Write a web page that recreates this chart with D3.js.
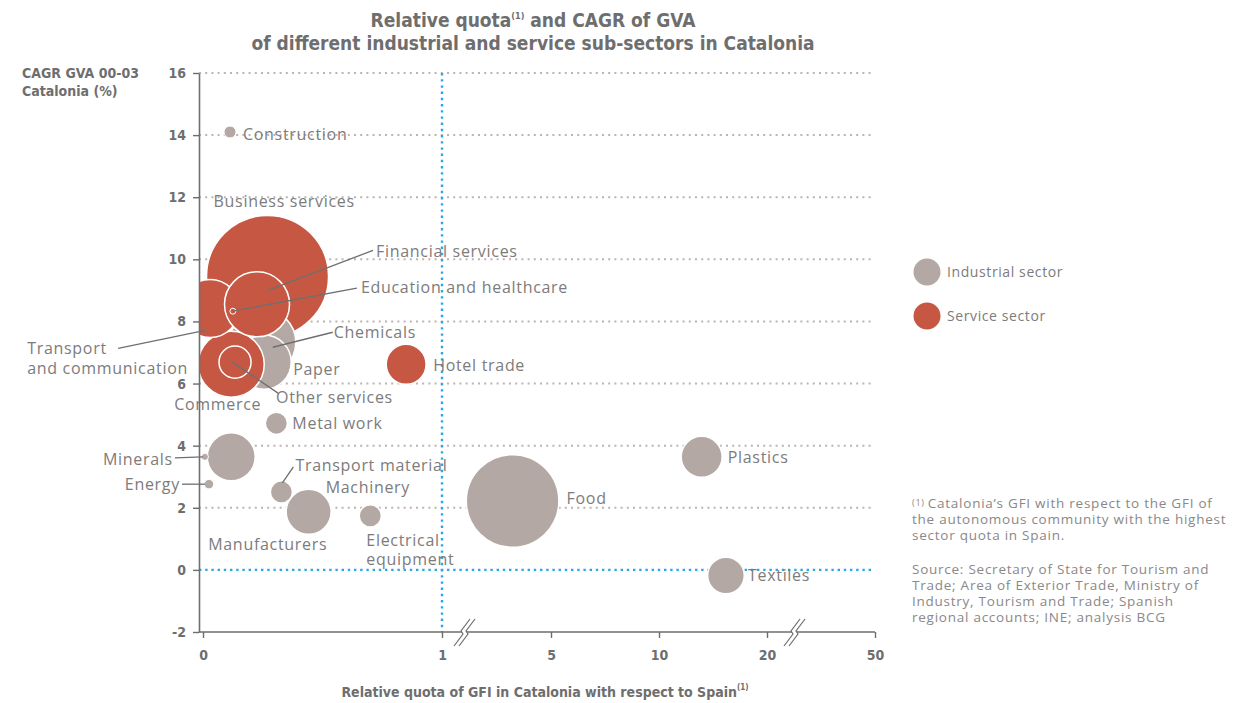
<!DOCTYPE html>
<html>
<head>
<meta charset="utf-8">
<script src="https://cdn.jsdelivr.net/npm/d3@7"></script>
<style>
  body { margin: 0; background: #fff; }
  svg { display: block; }
</style>
</head>
<body>
<div id="chart"></div>
<script>
// sub-sectors, in drawing order (big ones first)
const names = ['Business services', 'Food', 'Chemicals', 'Paper', 'Commerce',
  'Transport and communication', 'Financial services', 'Other services',
  'Education and healthcare', 'Hotel trade', 'Manufacturers', 'Machinery',
  'Plastics', 'Textiles', 'Metal work', 'Transport material',
  'Electrical equipment', 'Construction', 'Energy', 'Minerals'];
const sectors = ['S', 'I', 'I', 'I', 'S', 'S', 'S', 'S', 'S', 'S',
  'I', 'I', 'I', 'I', 'I', 'I', 'I', 'I', 'I', 'I'];
// relative quota of GFI (x) and CAGR GVA 00-03 (y)
const quota = [0.27, 3.59, 0.25, 0.256, 0.118, 0.03, 0.226, 0.134, 0.125, 0.85,
  0.118, 0.442, 13.95, 16.2, 0.307, 0.328, 0.70, 0.113, 0.025, 0.008];
const cagr = [9.45, 2.22, 7.33, 6.69, 6.62, 8.42, 8.55, 6.69, 8.33, 6.62,
  3.64, 1.87, 3.64, -0.18, 4.72, 2.51, 1.74, 14.1, 2.76, 3.64];
// bubble size (relative GVA weight)
const gva = [100, 57.6, 29.3, 19.6, 29.3, 22.6, 28.4, 6.9, 0.24, 10.7,
  15.5, 13.6, 11.3, 9.0, 3.3, 3.3, 3.3, 0.97, 0.6, 0.33];

// axis ticks
const xTicks = [0, 1, 5, 10, 20, 50];
const yTicks = [-2, 0, 2, 4, 6, 8, 10, 12, 14, 16];
const legendLabels = ['Industrial sector', 'Service sector'];
const footnote = [
  'Catalonia\u2019s GFI with respect to the GFI of',
  'the autonomous community with the highest',
  'sector quota in Spain.'
];
const source = [
  'Source: Secretary of State for Tourism and',
  'Trade; Area of Exterior Trade, Ministry of',
  'Industry, Tourism and Trade; Spanish',
  'regional accounts; INE; analysis BCG'
];

// label placement relative to bubble centre: [dx, dy, anchor, leader]
const labelLayout = {
  'Business services': [-54, -69, 'start'],
  'Food': [54, 3, 'start'],
  'Chemicals': [71, -4, 'start', [10, 5, 70, -10]],
  'Paper': [29, 13, 'start'],
  'Commerce': [-57, 46, 'start'],
  'Transport and communication': [-183, 46, 'start', [-5, 22, -92, 40]],
  'Financial services': [119, -47, 'start', [11, -14, 116, -54]],
  'Other services': [41, 41, 'start', [-4, -1, 43, 31]],
  'Education and healthcare': [128, -18, 'start', [0, 0, 124, -23]],
  'Hotel trade': [27, 7, 'start'],
  'Manufacturers': [-23, 93, 'start'],
  'Machinery': [17, -19, 'start'],
  'Plastics': [26, 6, 'start'],
  'Textiles': [22, 6, 'start'],
  'Metal work': [16, 6, 'start'],
  'Transport material': [14, -21, 'start', [1, -9, 12, -25]],
  'Electrical equipment': [-4, 30, 'start'],
  'Construction': [13, 8, 'start'],
  'Energy': [-29, 6, 'end', [-27, 0, -4, 0]],
  'Minerals': [-32, 8, 'end', [-30, 1, -2, 0]]
};
const twoLines = {
  'Transport and communication': ['Transport', 'and communication'],
  'Electrical equipment': ['Electrical', 'equipment']
};

const colors = { I: '#b3a8a4', S: '#c65843' };
const textGrey = '#7d7b7b';
const axisGrey = '#6e6e6e';
const condensed = '"Liberation Sans Narrow", "DejaVu Sans Condensed", Roboto, sans-serif';
const bodyFont = '"Open Sans", "Noto Sans", sans-serif';

const width = 1248;
const height = 703;
const plot = { left: 199, right: 875, top: 73, bottom: 632 };

const svg = d3.select('#chart')
  .append('svg')
  .attr('width', width)
  .attr('height', height);

// piecewise x scale: linear 0..1, then broken equal steps
const x = d3.scaleLinear()
  .domain(xTicks)
  .range([203, 442, 551, 659, 767, 875]);

const y = d3.scaleLinear()
  .domain([-2, 16])
  .range([plot.bottom, plot.top]);

const r = d3.scaleSqrt()
  .domain([0, d3.max(gva)])
  .range([0, 61]);

// title
const title = svg.append('g')
  .attr('font-family', condensed)
  .attr('font-weight', 'bold')
  .attr('font-size', '19px')
  .attr('fill', axisGrey)
  .attr('text-anchor', 'middle');
const t1 = title.append('text').attr('x', 533).attr('y', 27);
t1.append('tspan').text('Relative quota');
t1.append('tspan').attr('font-size', '9px').attr('dy', -8).text('(1)');
t1.append('tspan').attr('dy', 8).text(' and CAGR of GVA');
title.append('text').attr('x', 533).attr('y', 50)
  .text('of different industrial and service sub-sectors in Catalonia');

// y axis title
svg.append('g')
  .attr('font-family', condensed)
  .attr('font-weight', 'bold')
  .attr('font-size', '14px')
  .attr('fill', axisGrey)
  .selectAll('text')
  .data(['CAGR GVA 00-03', 'Catalonia (%)'])
  .join('text')
  .attr('x', 22)
  .attr('y', (d, i) => 78 + i * 18)
  .text(d => d);

// grid
const grid = svg.append('g');
grid.selectAll('line')
  .data(yTicks.filter(v => v > 0))
  .join('line')
  .attr('x1', plot.left)
  .attr('x2', plot.right - 2)
  .attr('y1', d => y(d))
  .attr('y2', d => y(d))
  .attr('stroke', '#bdb3b0')
  .attr('stroke-width', 2)
  .attr('stroke-dasharray', '2 4.2');

grid.append('line')
  .attr('x1', plot.left)
  .attr('x2', plot.right - 2)
  .attr('y1', y(0))
  .attr('y2', y(0))
  .attr('stroke', '#29a9e1')
  .attr('stroke-width', 2.4)
  .attr('stroke-dasharray', '2.4 3.8');

grid.append('line')
  .attr('x1', x(1))
  .attr('x2', x(1))
  .attr('y1', plot.top)
  .attr('y2', plot.bottom)
  .attr('stroke', '#29a9e1')
  .attr('stroke-width', 2.4)
  .attr('stroke-dasharray', '2.4 3.8');

// bubbles, clipped to the plot area
svg.append('clipPath')
  .attr('id', 'plotClip')
  .append('rect')
  .attr('x', plot.left)
  .attr('y', plot.top)
  .attr('width', plot.right - plot.left)
  .attr('height', plot.bottom - plot.top);

const points = names.map((name, i) => ({
  name: name,
  sector: sectors[i],
  cx: x(quota[i]),
  cy: y(cagr[i]),
  rad: r(gva[i])
}));

svg.append('g')
  .attr('clip-path', 'url(#plotClip)')
  .selectAll('circle')
  .data(points)
  .join('circle')
  .attr('cx', d => d.cx)
  .attr('cy', d => d.cy)
  .attr('r', d => d.rad)
  .attr('fill', d => colors[d.sector])
  .attr('stroke', '#fff')
  .attr('stroke-width', d => d.rad > 8 ? 1.5 : 1);

// leader lines
svg.append('g')
  .selectAll('line')
  .data(points.filter(d => labelLayout[d.name][3]))
  .join('line')
  .attr('x1', d => d.cx + labelLayout[d.name][3][0])
  .attr('y1', d => d.cy + labelLayout[d.name][3][1])
  .attr('x2', d => d.cx + labelLayout[d.name][3][2])
  .attr('y2', d => d.cy + labelLayout[d.name][3][3])
  .attr('stroke', '#6f6f6f')
  .attr('stroke-width', 1.3);

// bubble labels
const labels = svg.append('g')
  .attr('font-family', bodyFont)
  .attr('font-size', '16px')
  .attr('letter-spacing', '0.7px')
  .attr('fill', textGrey);

points.forEach(d => {
  const [dx, dy, anchor] = labelLayout[d.name];
  const lines = twoLines[d.name] || [d.name];
  lines.forEach((line, i) => {
    labels.append('text')
      .attr('text-anchor', anchor)
      .attr('x', d.cx + dx)
      .attr('y', d.cy + dy + i * 19.5)
      .text(line);
  });
});

// axes
const yAxis = svg.append('g')
  .attr('transform', `translate(${plot.left},0)`)
  .call(d3.axisLeft(y).tickValues(yTicks).tickSize(6).tickSizeOuter(0).tickPadding(7)
    .tickFormat(d => String(d)));

const xAxis = svg.append('g')
  .attr('transform', `translate(0,${plot.bottom})`)
  .call(d3.axisBottom(x).tickValues(xTicks).tickSize(6).tickSizeOuter(0).tickPadding(12));

[yAxis, xAxis].forEach(ax => {
  ax.select('.domain').attr('stroke', axisGrey).attr('stroke-width', 1.6);
  ax.selectAll('.tick line').attr('stroke', axisGrey).attr('stroke-width', 1.4);
  ax.selectAll('.tick text')
    .attr('fill', axisGrey)
    .attr('font-family', condensed)
    .attr('font-weight', 'bold')
    .attr('font-size', '14px');
});
// stretch x axis line back to the y axis
xAxis.select('.domain').attr('d', `M${plot.left},0H${plot.right}`);

// axis breaks
const breaks = svg.append('g');
[x(1) + 22, x(20) + 27].forEach(bx => {
  const by = plot.bottom;
  breaks.append('path')
    .attr('d', `M${bx - 10},${by + 14}L${bx - 1},${by + 2}L${bx - 3},${by - 1}L${bx + 6},${by - 13}` +
      `L${bx + 11},${by - 13}L${bx + 2},${by - 1}L${bx + 4},${by + 2}L${bx - 5},${by + 14}Z`)
    .attr('fill', '#fff')
    .attr('stroke', 'none');
  [0, 5].forEach(o => {
    breaks.append('path')
      .attr('d', `M${bx - 10 + o},${by + 14}L${bx - 1 + o},${by + 2}L${bx - 3 + o},${by - 1}L${bx + 6 + o},${by - 13}`)
      .attr('fill', 'none')
      .attr('stroke', axisGrey)
      .attr('stroke-width', 1.2);
  });
});

// x axis title
const xt = svg.append('text')
  .attr('x', 545)
  .attr('y', 697)
  .attr('text-anchor', 'middle')
  .attr('font-family', condensed)
  .attr('font-weight', 'bold')
  .attr('font-size', '14px')
  .attr('fill', axisGrey);
xt.append('tspan').text('Relative quota of GFI in Catalonia with respect to Spain');
xt.append('tspan').attr('font-size', '8px').attr('dy', -7).text('(1)');

// legend
const legend = svg.append('g')
  .attr('transform', 'translate(927,272)');
legendLabels.forEach((lab, i) => {
  legend.append('circle')
    .attr('cx', 0)
    .attr('cy', i * 44)
    .attr('r', 13.5)
    .attr('fill', colors[i === 0 ? 'I' : 'S']);
  legend.append('text')
    .attr('x', 20)
    .attr('y', i * 44 + 5)
    .attr('font-family', bodyFont)
    .attr('font-size', '14px')
    .attr('letter-spacing', '0.6px')
    .attr('fill', textGrey)
    .text(lab);
});

// footnote and source
const notes = svg.append('g')
  .attr('font-family', bodyFont)
  .attr('font-size', '13.5px')
  .attr('letter-spacing', '0.75px')
  .attr('fill', '#8a8888');
footnote.forEach((line, i) => {
  const t = notes.append('text').attr('x', 912).attr('y', 508 + i * 16);
  if (i === 0) {
    t.append('tspan').attr('font-size', '9px').attr('dy', -2).text('(1) ');
    t.append('tspan').attr('dy', 2).text(line);
  } else {
    t.text(line);
  }
});
source.forEach((line, i) => {
  notes.append('text').attr('x', 912).attr('y', 574 + i * 16).text(line);
});
</script>
</body>
</html>
